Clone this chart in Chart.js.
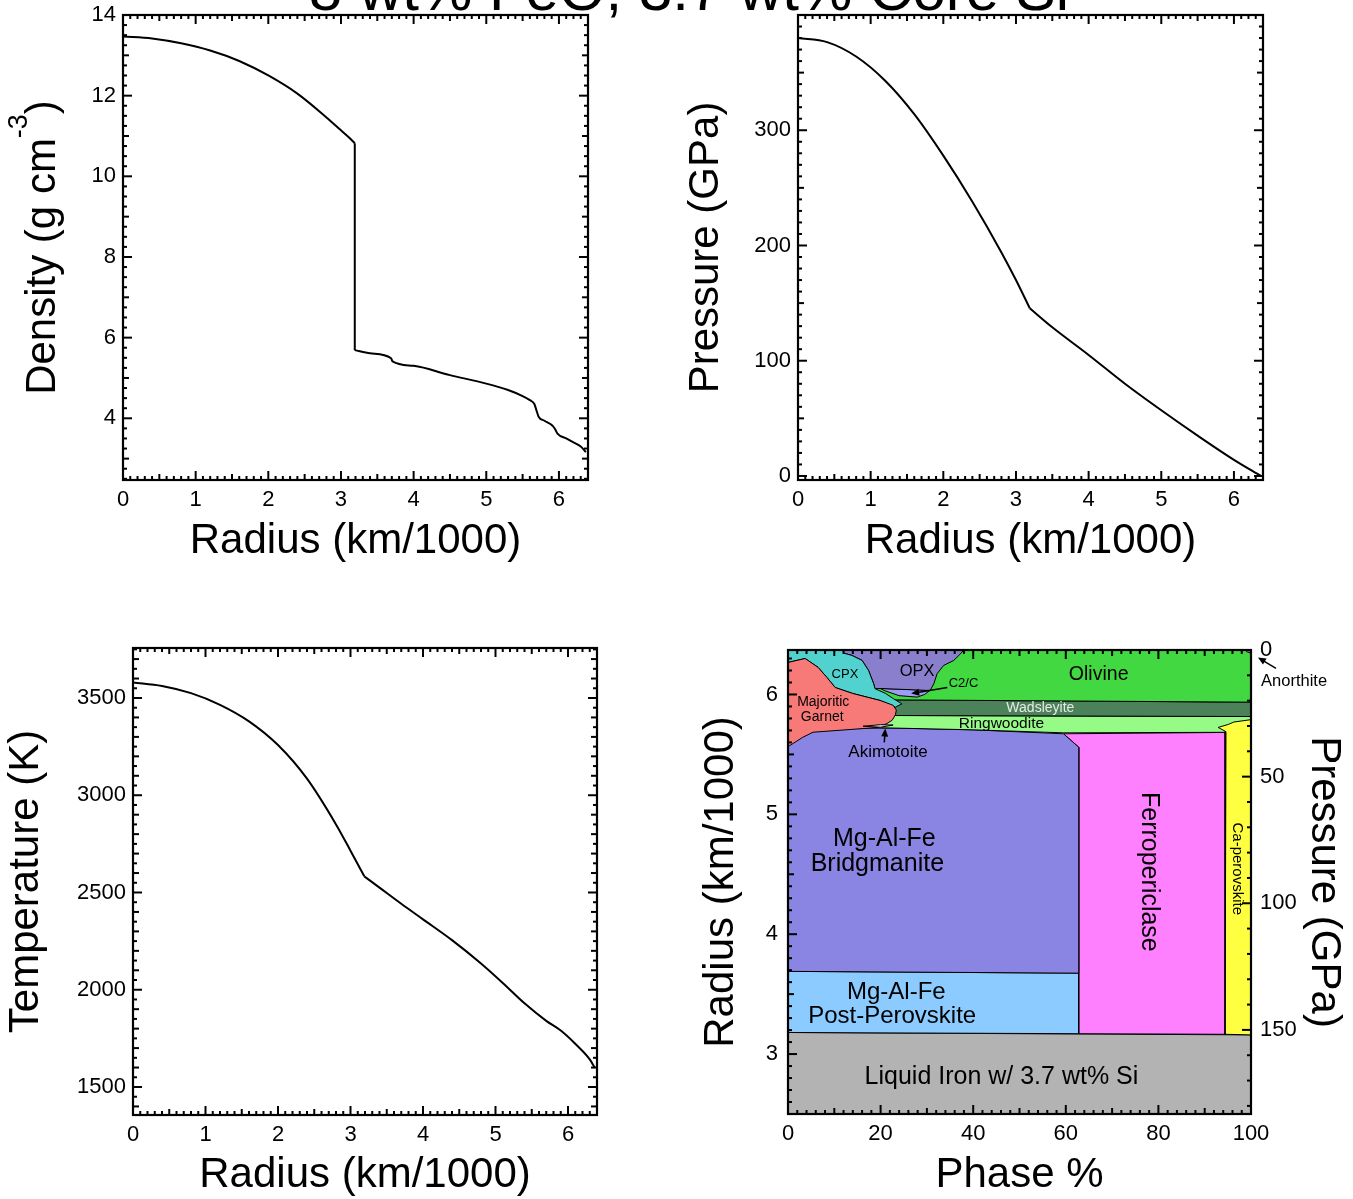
<!DOCTYPE html>
<html>
<head>
<meta charset="utf-8">
<script src="https://cdn.jsdelivr.net/npm/chart.js@4.4.3/dist/chart.umd.min.js"></script>
<style>
  html, body { margin: 0; padding: 0; background: #fff; }
  #wrap { position: relative; width: 1353px; height: 1199px; overflow: hidden; }
  canvas { position: absolute; left: 0; top: 0; }
</style>
</head>
<body>
<div id="wrap">
  <canvas id="dens" width="1353" height="1199"></canvas>
  <canvas id="pres" width="1353" height="1199"></canvas>
  <canvas id="temp" width="1353" height="1199"></canvas>
  <canvas id="phase" width="1353" height="1199"></canvas>
</div>
<script>
// ---- data ----
const figTitle = '8 wt% FeO, 3.7 wt% Core Si';
const cmbRadius = 3.19;   // core-mantle boundary, km/1000

const densRadius = [0, 0.4, 0.8, 1.2, 1.6, 2.0, 2.4, 2.8, 3.0, 3.1, 3.19, 3.19, 3.4, 3.69, 3.71, 4.0, 4.5, 5.0, 5.3, 5.5, 5.6, 5.66, 5.69, 5.72, 5.8, 5.92, 5.95, 5.98, 6.1, 6.2, 6.3, 6.371];
const densValue  = [13.47, 13.42, 13.30, 13.12, 12.86, 12.50, 12.05, 11.46, 11.14, 10.98, 10.82, 5.69, 5.61, 5.49, 5.41, 5.30, 5.07, 4.86, 4.70, 4.55, 4.45, 4.36, 4.20, 4.04, 3.94, 3.80, 3.72, 3.62, 3.50, 3.40, 3.30, 3.16];

const presRadius = [0, 0.4, 0.8, 1.2, 1.6, 2.0, 2.4, 2.8, 3.0, 3.19, 3.5, 4.0, 4.5, 5.0, 5.5, 6.0, 6.371];
const presValue  = [380, 376.5, 364, 343, 314, 278, 238, 194, 170, 145.5, 129, 105, 80, 57, 35, 14, 0];

const tempRadius = [0, 0.4, 0.8, 1.2, 1.6, 2.0, 2.4, 2.8, 3.0, 3.19, 3.4, 3.7, 4.0, 4.4, 4.8, 5.1, 5.4, 5.7, 5.9, 6.1, 6.3, 6.371];
const tempValue  = [3580, 3562, 3525, 3465, 3380, 3258, 3085, 2850, 2715, 2583, 2525, 2442, 2362, 2255, 2135, 2035, 1930, 1840, 1790, 1722, 1642, 1598];

const radiusTicks = [0, 1, 2, 3, 4, 5, 6];
const densTicks = [4, 6, 8, 10, 12, 14];
const presTicks = [0, 100, 200, 300];
const tempTicks = [1500, 2000, 2500, 3000, 3500];
const phaseTicks = [0, 20, 40, 60, 80, 100];
const phaseRadiusTicks = [3, 4, 5, 6];
const phasePresTicks = [0, 50, 100, 150];

// phase regions: [phase %, radius (km/1000)] outlines, bottom layer first
const coreIron   = [[0,2.5],[100,2.5],[100,3.16],[0,3.18]];
const postPv     = [[0,3.18],[62.8,3.17],[62.8,3.675],[0,3.69]];
const ferroper   = [[62.8,3.17],[94.4,3.165],[94.4,5.683],[59.5,5.672],[62.8,5.56]];
const bridgm     = [[0,3.69],[62.8,3.675],[62.8,5.56],[59.5,5.672],[40,5.705],[22.7,5.72],[5,5.72],[0,5.72]];
const ringw      = [[18,5.724],[40,5.705],[59.5,5.68],[100,5.685],[100,5.816],[18,5.825]];
const caPv       = [[94.4,3.165],[100,3.16],[100,5.79],[96.3,5.77],[95.1,5.75],[92.9,5.725],[94.6,5.69],[94.4,5.683]];
const wadsl      = [[18,5.825],[100,5.816],[100,5.936],[18,5.956]];
const olivine    = [[18,5.956],[100,5.936],[100,6.371],[18,6.371]];
const c2c        = [[19.9,6.05],[30.7,6.035],[29.5,6.0],[27.9,5.978],[24,5.99],[21,6.03]];
const opx        = [[11.9,6.371],[37.9,6.371],[37.6,6.353],[35.8,6.284],[33.6,6.242],[32.2,6.173],[31.5,6.09],[30.7,6.033],[19.9,6.05],[18.8,6.048],[18.5,6.09],[17.4,6.2],[16.0,6.284],[13.8,6.326],[12.0,6.345]];
const cpx        = [[0,6.371],[11.9,6.371],[12.0,6.345],[13.8,6.326],[16.0,6.284],[17.4,6.2],[18.5,6.09],[18.8,6.048],[21,6.01],[22.8,5.964],[24.6,5.922],[23.2,5.894],[19.9,5.95],[14.0,6.008],[10.2,6.058],[8.4,6.142],[6.5,6.226],[3.7,6.30],[0,6.267]];
const garnet     = [[0,6.267],[3.7,6.30],[6.5,6.226],[8.4,6.142],[10.2,6.058],[14.0,6.008],[19.9,5.95],[22.7,5.91],[23.4,5.87],[23.2,5.83],[22.5,5.785],[21.4,5.758],[19.2,5.724],[5.4,5.685],[3.2,5.643],[0.4,5.574],[0,5.566]];
const akimoto    = [[16.2,5.735],[20,5.748],[22.7,5.745],[20,5.727]];
const anorth     = [[98.7,6.371],[100,6.371],[100,6.345],[99.2,6.355]];

const phaseLayers = [
  [coreIron, '#b3b3b3'], [postPv, '#8ccbff'], [ferroper, '#ff80ff'], [bridgm, '#8a85e3'],
  [ringw, '#95fb86'], [caPv, '#ffff42'], [wadsl, '#4b8259'], [olivine, '#42d842'],
  [c2c, '#9d9cf6'], [opx, '#8a7fcd'], [cpx, '#52d2cf'], [garnet, '#f87a78'],
  [akimoto, '#ececec'], [anorth, '#ff3cff']
];

// text on the phase panel, in data units
const phaseNotes = [
  {t: 'CPX', x: 12.3, y: 6.167, s: 13},
  {t: 'OPX', x: 27.9, y: 6.19, s: 16.5},
  {t: 'C2/C', x: 37.9, y: 6.09, s: 13},
  {t: 'Olivine', x: 67.1, y: 6.167, s: 19.5},
  {t: 'Wadsleyite', x: 54.5, y: 5.883, s: 14, c: '#e8e8e8'},
  {t: 'Ringwoodite', x: 46.1, y: 5.758, s: 15.5},
  {t: 'Majoritic', x: 7.6, y: 5.933, s: 14},
  {t: 'Garnet', x: 7.4, y: 5.808, s: 14},
  {t: 'Akimotoite', x: 21.6, y: 5.515, s: 17},
  {t: 'Mg-Al-Fe', x: 20.8, y: 4.797, s: 25},
  {t: 'Bridgmanite', x: 19.3, y: 4.588, s: 25},
  {t: 'Ferropericlase', x: 77.9, y: 4.52, s: 25, rot: 90},
  {t: 'Ca-perovskite', x: 97.0, y: 4.546, s: 15, rot: 90},
  {t: 'Mg-Al-Fe', x: 23.4, y: 3.518, s: 24},
  {t: 'Post-Perovskite', x: 22.5, y: 3.318, s: 24},
  {t: 'Liquid Iron w/ 3.7 wt% Si', x: 46.1, y: 2.81, s: 25},
  {t: 'Anorthite', x: 109.3, y: 6.109, s: 16.5}
];
const phaseArrows = [
  [34.4, 6.058, 26.6, 6.008],
  [20.8, 5.60, 21.0, 5.716],
  [105.4, 6.217, 101.5, 6.309]
];

// ---- drawing ----
const W = 1353, H = 1199;
const FONT = '"Liberation Sans", Helvetica, Arial, sans-serif';
Chart.defaults.font.family = FONT;
Chart.defaults.color = '#000';
const HALF = 42 * 1.2 / 2;

function zeroPad(s) { s.paddingLeft = s.paddingRight = s.paddingTop = s.paddingBottom = 0; }

function frameTicks(sides) {
  return {
    id: 'frameTicks',
    afterDatasetsDraw(chart) {
      const {ctx, chartArea: a} = chart;
      ctx.save();
      ctx.strokeStyle = '#000';
      ctx.lineWidth = 2;
      sides.forEach(sd => {
        const sc = chart.scales[sd.scale];
        const lo = Math.min(sc.min, sc.max), hi = Math.max(sc.min, sc.max);
        const n0 = Math.ceil(lo / sd.minor - 1e-9), n1 = Math.floor(hi / sd.minor + 1e-9);
        for (let i = n0; i <= n1; i++) {
          const v = i * sd.minor;
          const on = st => st && Math.abs(v / st - Math.round(v / st)) < 1e-6;
          const len = on(sd.major) ? 9 : on(sd.mid) ? 6 : 4;
          const p = sc.getPixelForValue(v);
          ctx.beginPath();
          if (sd.pos === 'bottom') { ctx.moveTo(p, a.bottom); ctx.lineTo(p, a.bottom - len); }
          if (sd.pos === 'top') { ctx.moveTo(p, a.top); ctx.lineTo(p, a.top + len); }
          if (sd.pos === 'left') { ctx.moveTo(a.left, p); ctx.lineTo(a.left + len, p); }
          if (sd.pos === 'right') { ctx.moveTo(a.right, p); ctx.lineTo(a.right - len, p); }
          ctx.stroke();
        }
      });
      ctx.lineWidth = 2.2;
      ctx.strokeRect(a.left, a.top, a.right - a.left, a.bottom - a.top);
      ctx.restore();
    }
  };
}

function linearAxis(o) {
  return {
    type: 'linear', position: o.position, min: o.min, max: o.max, reverse: !!o.reverse,
    grid: {display: false, drawTicks: false}, border: {display: false},
    ticks: {font: {size: 22}, color: '#000', padding: o.pad, autoSkip: false, maxRotation: 0,
            callback: v => String(v)},
    afterBuildTicks: s => { s.ticks = o.labels.map(v => ({value: v})); },
    afterFit: s => {
      if (o.position === 'bottom') s.height = o.size; else s.width = o.size;
      zeroPad(s);
    },
    title: {display: !!o.title, text: o.title || '', font: {size: 42}, color: '#000', padding: 0}
  };
}

function panel(id, p) {
  const a = p.area;
  const padLeft = p.yMid - HALF;
  const xSize = p.xMid + HALF - a.b;
  const y2Size = p.y2 ? (p.y2Mid + HALF - a.r) : 0;
  const scales = {
    x: linearAxis(Object.assign({position: 'bottom', size: xSize, pad: 7}, p.x)),
    y: linearAxis(Object.assign({position: 'left', size: a.l - padLeft}, p.y))
  };
  if (p.y2) scales.y2 = linearAxis(Object.assign({position: 'right', size: y2Size}, p.y2));
  return new Chart(document.getElementById(id), {
    type: 'scatter',
    data: {datasets: p.datasets},
    options: {
      responsive: false, animation: false, devicePixelRatio: 1, events: [],
      layout: {padding: {left: padLeft, top: a.t, right: W - a.r - y2Size, bottom: H - a.b - xSize}},
      plugins: {legend: {display: false}, tooltip: {enabled: false}},
      scales
    },
    plugins: [frameTicks(p.frame)].concat(p.extra || [])
  });
}

// smooth line through points, split at the core-mantle boundary so the kink / jump stays sharp
function profile(xs, ys) {
  const pts = xs.map((x, i) => ({x, y: ys[i]}));
  const core = pts.filter(pt => pt.x < cmbRadius);
  const cmb = pts.filter(pt => pt.x === cmbRadius);
  const mantle = pts.filter(pt => pt.x > cmbRadius);
  const style = {showLine: true, borderColor: '#000', borderWidth: 2, pointRadius: 0, fill: false};
  return [
    Object.assign({data: core.concat(cmb[0]), cubicInterpolationMode: 'monotone'}, style),
    Object.assign({data: cmb.slice()}, style),
    Object.assign({data: [cmb[cmb.length - 1]].concat(mantle), cubicInterpolationMode: 'monotone'}, style)
  ];
}

const radiusFrame = (yMaj, yMin, yMid) => [
  {pos: 'bottom', scale: 'x', major: 1, mid: 0.5, minor: 0.1},
  {pos: 'top', scale: 'x', major: 1, mid: 0.5, minor: 0.1},
  {pos: 'left', scale: 'y', major: yMaj, mid: yMid, minor: yMin},
  {pos: 'right', scale: 'y', major: yMaj, mid: yMid, minor: yMin}
];

// figure title and density axis label (with superscript)
const densExtras = {
  id: 'densExtras',
  afterDraw(chart) {
    const {ctx, chartArea: a} = chart;
    ctx.save();
    ctx.fillStyle = '#000';
    ctx.font = '60px ' + FONT;
    ctx.textAlign = 'center';
    ctx.textBaseline = 'alphabetic';
    ctx.fillText(figTitle, 689, 10);
    const big = '42px ' + FONT, small = '27px ' + FONT;
    const parts = [['Density (g cm', big, 0], ['-3', small, -28], [')', big, 0]];
    let total = 0;
    parts.forEach(pt => { ctx.font = pt[1]; total += ctx.measureText(pt[0]).width; });
    ctx.translate(40.5, (a.top + a.bottom) / 2);
    ctx.rotate(-Math.PI / 2);
    ctx.textAlign = 'left';
    let cx = -total / 2;
    parts.forEach(pt => {
      ctx.font = pt[1];
      ctx.fillText(pt[0], cx, 14.6 + pt[2]);
      cx += ctx.measureText(pt[0]).width;
    });
    ctx.restore();
  }
};

panel('dens', {
  area: {l: 123, t: 15, r: 588, b: 480},
  xMid: 541.4, yMid: 40.5,
  x: {min: 0, max: 6.4, labels: radiusTicks, title: 'Radius (km/1000)'},
  y: {min: 2.47, max: 14, labels: densTicks, pad: 7},
  frame: radiusFrame(2, 0.25, 1),
  datasets: profile(densRadius, densValue),
  extra: [densExtras]
});

panel('pres', {
  area: {l: 798, t: 15, r: 1263, b: 480},
  xMid: 541.4, yMid: 706,
  x: {min: 0, max: 6.4, labels: radiusTicks, title: 'Radius (km/1000)'},
  y: {min: -3.5, max: 400, labels: presTicks, pad: 7, title: 'Pressure (GPa)'},
  frame: radiusFrame(100, 10, 50),
  datasets: profile(presRadius, presValue)
});

panel('temp', {
  area: {l: 133, t: 648, r: 597, b: 1115},
  xMid: 1175.4, yMid: 26.5,
  x: {min: 0, max: 6.4, labels: radiusTicks, title: 'Radius (km/1000)'},
  y: {min: 1356, max: 3757, labels: tempTicks, pad: 7, title: 'Temperature (K)'},
  frame: radiusFrame(500, 50, 100),
  datasets: profile(tempRadius, tempValue)
});

const phaseText = {
  id: 'phaseText',
  afterDatasetsDraw(chart) {
    const {ctx} = chart;
    const sx = chart.scales.x, sy = chart.scales.y;
    ctx.save();
    phaseNotes.forEach(n => {
      ctx.save();
      ctx.font = n.s + 'px ' + FONT;
      ctx.fillStyle = n.c || '#000';
      ctx.textAlign = 'center';
      ctx.textBaseline = 'middle';
      ctx.translate(sx.getPixelForValue(n.x), sy.getPixelForValue(n.y));
      if (n.rot) ctx.rotate(n.rot * Math.PI / 180);
      ctx.fillText(n.t, 0, 0);
      ctx.restore();
    });
    ctx.strokeStyle = '#000';
    ctx.fillStyle = '#000';
    ctx.lineWidth = 1.5;
    phaseArrows.forEach(ar => {
      const x1 = sx.getPixelForValue(ar[0]), y1 = sy.getPixelForValue(ar[1]);
      const x2 = sx.getPixelForValue(ar[2]), y2 = sy.getPixelForValue(ar[3]);
      const ang = Math.atan2(y2 - y1, x2 - x1);
      ctx.beginPath(); ctx.moveTo(x1, y1); ctx.lineTo(x2 - 5 * Math.cos(ang), y2 - 5 * Math.sin(ang)); ctx.stroke();
      ctx.beginPath();
      ctx.moveTo(x2, y2);
      ctx.lineTo(x2 - 8 * Math.cos(ang) + 3.5 * Math.sin(ang), y2 - 8 * Math.sin(ang) - 3.5 * Math.cos(ang));
      ctx.lineTo(x2 - 8 * Math.cos(ang) - 3.5 * Math.sin(ang), y2 - 8 * Math.sin(ang) + 3.5 * Math.cos(ang));
      ctx.closePath(); ctx.fill();
    });
    ctx.restore();
  }
};

panel('phase', {
  area: {l: 788, t: 650, r: 1251, b: 1114},
  xMid: 1175, yMid: 721.5, y2Mid: 1323.6,
  x: {min: 0, max: 100, labels: phaseTicks, title: 'Phase %'},
  y: {min: 2.5, max: 6.371, labels: phaseRadiusTicks, pad: 10, title: 'Radius (km/1000)'},
  y2: {min: 0, max: 183.2, reverse: true, labels: phasePresTicks, pad: 9, title: 'Pressure (GPa)'},
  frame: [
    {pos: 'bottom', scale: 'x', major: 20, mid: 10, minor: 2},
    {pos: 'top', scale: 'x', major: 20, mid: 10, minor: 2},
    {pos: 'left', scale: 'y', major: 1, mid: 0.5, minor: 0.1},
    {pos: 'right', scale: 'y2', major: 50, mid: null, minor: 10}
  ],
  datasets: phaseLayers.map((ly, i) => ({
    data: ly[0].concat([ly[0][0]]).map(pt => ({x: pt[0], y: pt[1]})),
    showLine: true, fill: 'shape', backgroundColor: ly[1], borderColor: '#000',
    borderWidth: 1, pointRadius: 0, order: phaseLayers.length - i
  })),
  extra: [phaseText]
});
</script>
</body>
</html>
